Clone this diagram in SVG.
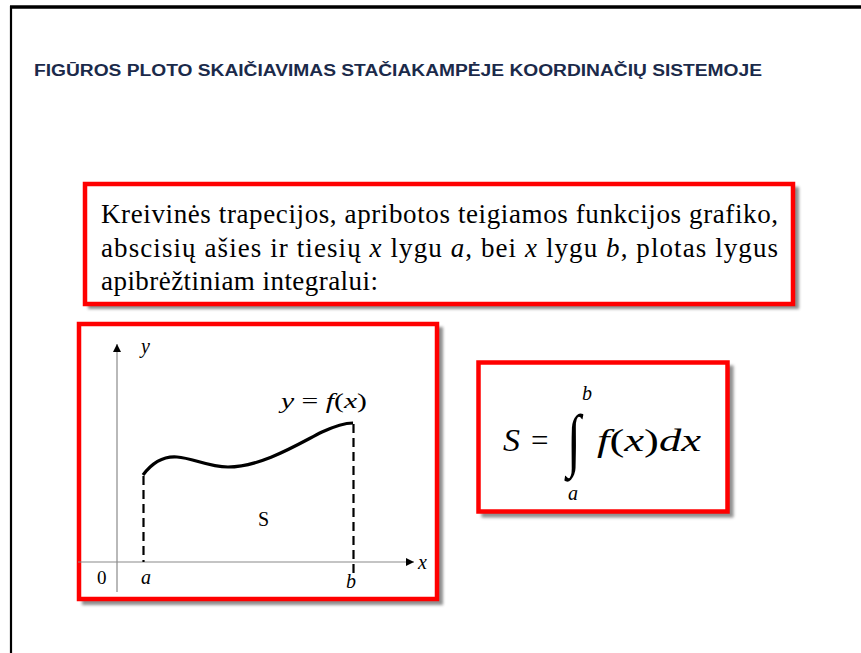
<svg xmlns="http://www.w3.org/2000/svg" width="861" height="653" viewBox="0 0 861 653">
<defs>
<style>
.frame{fill:#fff;stroke:#ff0000;stroke-width:4.5}
.shadow{fill:#444;opacity:0.6}
.title{font-family:"Liberation Sans",Arial,sans-serif;font-weight:bold;font-size:16px;fill:#1b2a4a}
.body{font-family:"Liberation Serif","Times New Roman",serif;font-size:27px;fill:#000}
.it{font-style:italic}
.math{font-family:"Liberation Serif","Times New Roman",serif;fill:#000}
.axis{stroke:#8a8a8a;stroke-width:1.2;fill:none}
.dash{stroke:#000;stroke-width:2.2;stroke-dasharray:9 5;fill:none}
</style>
<filter id="blur" x="-5%" y="-5%" width="110%" height="110%"><feGaussianBlur stdDeviation="1.5"/></filter>
<marker id="arr" viewBox="0 0 10 10" refX="10" refY="5" markerWidth="9" markerHeight="8" markerUnits="userSpaceOnUse" orient="auto"><path d="M0,0 L10,5 L0,10 Z" fill="#000"/></marker>
</defs>
<rect width="861" height="653" fill="#fff"/>
<g id="page-border">
<line x1="10" y1="7" x2="861" y2="7" stroke="#000" stroke-width="3.5"/>
<line x1="11" y1="6" x2="11" y2="653" stroke="#000" stroke-width="2.2"/>
</g>
<g id="title">
<text class="title" x="34" y="76" textLength="728" lengthAdjust="spacingAndGlyphs">FIGŪROS PLOTO SKAIČIAVIMAS STAČIAKAMPĖJE KOORDINAČIŲ SISTEMOJE</text>
</g>
<g id="definition">
<rect class="shadow" x="88" y="187" width="711" height="122" filter="url(#blur)"/>
<rect class="frame" x="85" y="184" width="708" height="120"/>
<text class="body" x="101" y="223" textLength="677" lengthAdjust="spacing">Kreivinės trapecijos, apribotos teigiamos funkcijos grafiko,</text>
<text class="body" x="101" y="257" textLength="677" lengthAdjust="spacing">abscisių ašies ir tiesių <tspan class="it">x</tspan> lygu  <tspan class="it">a</tspan>,  bei <tspan class="it">x</tspan> lygu <tspan class="it">b</tspan>, plotas lygus</text>
<text class="body" x="101" y="290" textLength="277" lengthAdjust="spacing">apibrėžtiniam  integralui:</text>
</g>
<g id="graph">
<rect class="shadow" x="82" y="327" width="361" height="278" filter="url(#blur)"/>
<rect class="frame" x="79" y="324" width="358" height="275"/>
<g id="connectors">
<line class="axis" x1="117" y1="592" x2="117" y2="344" marker-end="url(#arr)"/>
<line class="axis" x1="78" y1="562" x2="414" y2="562" marker-end="url(#arr)"/>
<line class="dash" x1="143.5" y1="476" x2="143.5" y2="562"/>
<line class="dash" x1="353.5" y1="424" x2="353.5" y2="578" stroke-width="2.6"/>
<path d="M143,475 C152,463 164,456 177,457 C193,458 208,467 228,467 C262,467 300,443 322,432 C335,426 345,423 353,423" fill="none" stroke="#000" stroke-width="3.2"/>
</g>
<text class="math it" x="141" y="353" font-size="20">y</text>
<text class="math it" x="418" y="569" font-size="20">x</text>
<text class="math" x="97" y="584" font-size="19">0</text>
<text class="math it" x="141" y="584" font-size="20">a</text>
<text class="math it" x="346" y="588" font-size="20">b</text>
<text class="math" x="258" y="526" font-size="20">S</text>
<text class="math" x="281" y="408" font-size="21" textLength="86" lengthAdjust="spacingAndGlyphs"><tspan class="it">y</tspan> = <tspan class="it">f</tspan>(<tspan class="it">x</tspan>)</text>
</g>
<g id="formula">
<rect class="shadow" x="481.5" y="365.5" width="252" height="152" filter="url(#blur)"/>
<rect class="frame" x="478.5" y="362.5" width="249" height="149"/>
<text class="math it" x="503" y="451" font-size="31" textLength="17" lengthAdjust="spacingAndGlyphs">S</text>
<text class="math" x="531" y="451" font-size="31">=</text>
<text class="math" transform="translate(567,463) scale(1.05,1.45)" font-size="48">∫</text>
<text class="math it" x="582" y="400" font-size="20">b</text>
<text class="math it" x="568" y="500" font-size="20">a</text>
<text class="math" x="597" y="451" font-size="31" textLength="104" lengthAdjust="spacingAndGlyphs"><tspan class="it">f</tspan>(<tspan class="it">x</tspan>)<tspan class="it">dx</tspan></text>
</g>
</svg>
